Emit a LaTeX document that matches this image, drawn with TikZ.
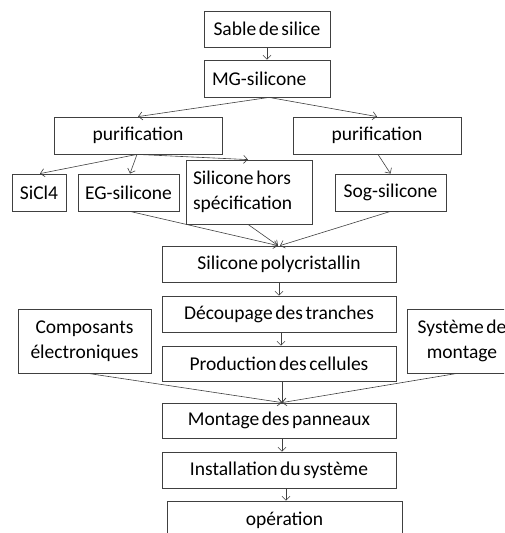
\documentclass[tikz,border=0pt]{standalone}
\usepackage{fontspec}
\setmainfont{Carlito}[WordSpace=0.6]
\usetikzlibrary{arrows.meta}
\begin{document}
\begin{tikzpicture}[x=1pt,y=-1pt,
  box/.style={draw=black!75,line width=0.8pt,fill=white,inner sep=0pt,
    font=\fontsize{19.5}{25}\selectfont,align=center},
  conn/.style={draw=black!75,line width=0.6pt,-{Straight Barb[length=4pt,width=8pt]}}]
\useasboundingbox (0,0) rectangle (504,533);
\begin{scope}
\clip (0,0) rectangle (504,533);
\node[box,minimum width=126,minimum height=36] (sable) at (267,29) {Sable de silice};
\node[box,minimum width=126,minimum height=37,text width=110,align=left,inner xsep=8pt] (mg) at (267,78.5) {MG-silicone};
\node[box,minimum width=168,minimum height=37] (pl) at (138,135.5) {purification};
\node[box,minimum width=168,minimum height=37] (pr) at (377,135.5) {purification};
\node[box,minimum width=54,minimum height=37] (sicl) at (39,192.5) {SiCl4};
\node[box,minimum width=101,minimum height=37] (eg) at (128.5,192.5) {EG-silicone};
\node[box,minimum width=126,minimum height=64,text width=112,align=left,inner xsep=7pt] (hors) at (249,192) {\mbox{\spaceskip=0pt\relax Silicone hors}\\\mbox{spécification}};
\node[box,minimum width=111,minimum height=37] (sog) at (390.5,192.5) {Sog-silicone};
\node[box,minimum width=234,minimum height=36] (poly) at (279,264) {Silicone polycristallin};
\node[box,minimum width=234,minimum height=36] (dec) at (279,314) {Découpage des tranches};
\node[box,minimum width=133,minimum height=64] (comp) at (84.5,341) {Composants\\électroniques};
\node[box,minimum width=234,minimum height=35] (prod) at (279,363.5) {Production des cellules};
\node[box,minimum width=110,minimum height=64] (sys) at (462,341) {Système de\\montage};
\node[box,minimum width=234,minimum height=35] (mont) at (279,420.5) {Montage des panneaux};
\node[box,minimum width=234,minimum height=36] (inst) at (279,470) {Installation du système};
\node[box,minimum width=235,minimum height=38] (op) at (284.5,520) {opération};

\draw[conn] (sable.south) -- (mg.north);
\draw[conn] ([xshift=2pt]mg.south) -- (pl.north);
\draw[conn] ([xshift=2pt]mg.south) -- (pr.north);
\draw[conn] ([xshift=-1pt]pl.south) -- ([xshift=1pt]sicl.north);
\draw[conn] ([xshift=-1pt]pl.south) -- ([xshift=1.5pt]eg.north);
\draw[conn] ([xshift=-1pt]pl.south) -- ([xshift=-1pt]hors.north);
\draw[conn] ([xshift=1pt]pr.south) -- (sog.north);
\draw[conn] ([xshift=1.5pt]eg.south) -- ([xshift=-1pt]poly.north);
\draw[conn] ([xshift=-1pt]hors.south) -- ([xshift=-1pt]poly.north);
\draw[conn] (sog.south) -- ([xshift=1pt]poly.north);
\draw[conn] (poly.south) -- (dec.north);
\draw[conn] ([xshift=2pt]dec.south) -- ([xshift=2pt]prod.north);
\draw[conn] ([xshift=3.5pt]comp.south) -- ([xshift=3pt]mont.north);
\draw[conn] ([xshift=3pt]prod.south) -- ([xshift=3pt]mont.north);
\draw[conn] ([xshift=-5pt]sys.south) -- ([xshift=3pt]mont.north);
\draw[conn] ([xshift=3pt]mont.south) -- ([xshift=3pt]inst.north);
\draw[conn] ([xshift=7pt]inst.south) -- ([xshift=1.5pt]op.north);
\end{scope}
\end{tikzpicture}
\end{document}
